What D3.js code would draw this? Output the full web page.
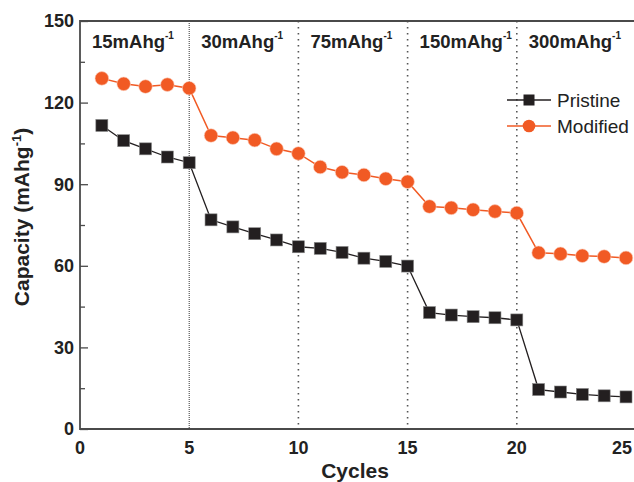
<!DOCTYPE html>
<html>
<head>
<meta charset="utf-8">
<script src="https://cdn.jsdelivr.net/npm/d3@7/dist/d3.min.js"></script>
<style>
  html, body { margin: 0; padding: 0; background: #fff; }
  svg { display: block; font-family: "Liberation Sans", Arial, sans-serif; }
</style>
</head>
<body>
<svg id="chart" width="634" height="482"></svg>
<script>
// ---- data ----
const cycles = d3.range(1, 26);
const pristine = [111.6, 106.0, 103.0, 100.0, 97.9,
                  76.9, 74.3, 71.8, 69.5, 67.0,
                  66.4, 64.9, 62.8, 61.6, 59.9,
                  42.8, 41.9, 41.3, 40.9, 40.1,
                  14.5, 13.6, 12.7, 12.2, 11.8];
const modified = [128.9, 126.9, 125.9, 126.6, 125.3,
                  107.9, 107.1, 106.2, 103.0, 101.3,
                  96.3, 94.4, 93.4, 92.0, 90.9,
                  81.8, 81.3, 80.6, 80.0, 79.4,
                  64.8, 64.4, 63.7, 63.4, 62.9];
const seriesNames = ["Pristine", "Modified"];
const rateLabels = ["15mAhg", "30mAhg", "75mAhg", "150mAhg", "300mAhg"];
const rateStarts = [0, 5, 10, 15, 20];
const dividers = [5, 10, 15, 20];
const xTicks = [0, 5, 10, 15, 20, 25];
const yTicks = [0, 30, 60, 90, 120, 150];
const yMinorTicks = [15, 45, 75, 105, 135];

// ---- layout ----
const svg = d3.select("#chart");
const L = 80, R = 626, T = 21, B = 429;
const x = d3.scaleLinear().domain([0, 25]).range([L, R]);
const y = d3.scaleLinear().domain([0, 150]).range([B, T]);

const black = "#231f20", orange = "#f15a24", axisCol = "#4a4a4a";

// divider dotted lines
dividers.forEach((d, i) => {
  svg.append("line")
    .attr("x1", x(d)).attr("x2", x(d))
    .attr("y1", T).attr("y2", B)
    .attr("stroke", i === 0 ? "#333" : "#555")
    .attr("stroke-width", i === 0 ? 1 : 1.6)
    .attr("stroke-dasharray", i === 0 ? "1,1" : "1.6,4.4");
});

// axes
const yAxis = d3.axisRight(y).tickValues(yTicks).tickSize(8).tickFormat("");
const gy = svg.append("g").attr("transform", `translate(${L},0)`).call(yAxis);
gy.select(".domain").remove();
gy.selectAll("line").attr("stroke", axisCol).attr("stroke-width", 1.3);
const yMinor = d3.axisRight(y).tickValues(yMinorTicks).tickSize(5).tickFormat("");
const gym = svg.append("g").attr("transform", `translate(${L},0)`).call(yMinor);
gym.select(".domain").remove();
gym.selectAll("line").attr("stroke", axisCol).attr("stroke-width", 1.3);

// y tick labels
svg.append("g").selectAll("text").data(yTicks).join("text")
  .attr("x", L - 6).attr("y", d => y(d)).attr("dy", "0.36em")
  .attr("text-anchor", "end")
  .attr("font-size", 18).attr("font-weight", "bold").attr("fill", "#222")
  .text(d => d);

// x tick labels (last one kept inside the picture)
svg.append("g").selectAll("text").data(xTicks).join("text")
  .attr("x", d => Math.min(x(d), 622)).attr("y", 454)
  .attr("text-anchor", "middle")
  .attr("font-size", 18).attr("font-weight", "bold").attr("fill", "#222")
  .text(d => d);

// frame lines: left, bottom, top
svg.append("path")
  .attr("d", `M${R + 10},${T}H${L}V${B}H${R + 10}`)
  .attr("fill", "none").attr("stroke", axisCol).attr("stroke-width", 1.8);

// axis titles
svg.append("text")
  .attr("x", (L + R) / 2 + 2).attr("y", 478)
  .attr("text-anchor", "middle")
  .attr("font-size", 21).attr("font-weight", "bold").attr("fill", "#222")
  .text("Cycles");

const yt = svg.append("text")
  .attr("transform", `translate(29,${(T + B) / 2 - 8}) rotate(-90)`)
  .attr("text-anchor", "middle")
  .attr("font-size", 21).attr("font-weight", "bold").attr("fill", "#222");
yt.append("tspan").text("Capacity (mAhg");
yt.append("tspan").attr("font-size", 13).attr("dy", -8).text("-1");
yt.append("tspan").attr("dy", 8).text(")");

// rate labels
rateLabels.forEach((lab, i) => {
  const t = svg.append("text")
    .attr("x", x(rateStarts[i]) + 12).attr("y", 48)
    .attr("font-size", 18.5).attr("font-weight", "bold").attr("fill", "#222");
  t.append("tspan").text(lab);
  t.append("tspan").attr("font-size", 10).attr("dy", -9).text("-1");
});

// series
const line = d3.line().x((d, i) => x(cycles[i])).y(d => y(d));
svg.append("path").datum(pristine).attr("d", line)
  .attr("fill", "none").attr("stroke", black).attr("stroke-width", 1.3);
svg.append("path").datum(modified).attr("d", line)
  .attr("fill", "none").attr("stroke", orange).attr("stroke-width", 1.5);

const sq = 12;
svg.append("g").selectAll("rect").data(pristine).join("rect")
  .attr("x", (d, i) => x(cycles[i]) - sq / 2).attr("y", d => y(d) - sq / 2)
  .attr("width", sq).attr("height", sq)
  .attr("fill", black).attr("stroke", "#888").attr("stroke-width", 0.6);

svg.append("g").selectAll("circle").data(modified).join("circle")
  .attr("cx", (d, i) => x(cycles[i])).attr("cy", d => y(d)).attr("r", 6.8)
  .attr("fill", orange).attr("stroke", "#fbd0c0").attr("stroke-width", 0.6);

// legend
const lgX1 = 507, lgX2 = 551, lgM = 529;
const lgY = [100, 126];
[black, orange].forEach((c, i) => {
  svg.append("line").attr("x1", lgX1).attr("x2", lgX2)
    .attr("y1", lgY[i]).attr("y2", lgY[i])
    .attr("stroke", c).attr("stroke-width", 1.3);
  if (i === 0) {
    svg.append("rect").attr("x", lgM - 5.5).attr("y", lgY[i] - 5.5)
      .attr("width", 11).attr("height", 11).attr("fill", black);
  } else {
    svg.append("circle").attr("cx", lgM).attr("cy", lgY[i]).attr("r", 6.3)
      .attr("fill", orange);
  }
  svg.append("text").attr("x", 557).attr("y", lgY[i]).attr("dy", "0.36em")
    .attr("font-size", 19).attr("fill", "#222").text(seriesNames[i]);
});
</script>
</body>
</html>
